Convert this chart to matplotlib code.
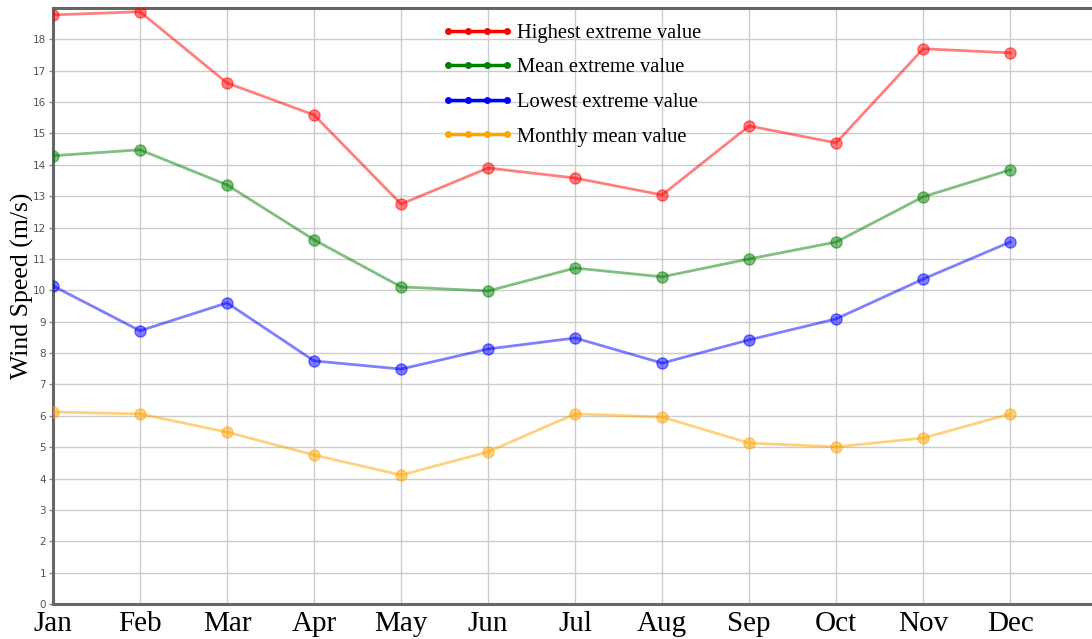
import matplotlib.pyplot as plt
from matplotlib.lines import Line2D

months = ['Jan', 'Feb', 'Mar', 'Apr', 'May', 'Jun', 'Jul', 'Aug', 'Sep', 'Oct', 'Nov', 'Dec']
highest = [18.78, 18.88, 16.61, 15.59, 12.75, 13.90, 13.58, 13.04, 15.24, 14.70, 17.70, 17.57]
mean_extreme = [14.29, 14.48, 13.36, 11.61, 10.11, 9.98, 10.71, 10.43, 11.00, 11.54, 12.98, 13.84]
lowest = [10.14, 8.71, 9.60, 7.75, 7.49, 8.13, 8.48, 7.68, 8.42, 9.09, 10.36, 11.54]
monthly_mean = [6.12, 6.06, 5.48, 4.75, 4.11, 4.85, 6.06, 5.96, 5.13, 5.01, 5.29, 6.06]

series = [
    ('Highest extreme value', highest, '#ff0000'),
    ('Mean extreme value', mean_extreme, '#008000'),
    ('Lowest extreme value', lowest, '#0000ff'),
    ('Monthly mean value', monthly_mean, '#ffa500'),
]

W, H = 1092, 639
fig = plt.figure(figsize=(W / 100, H / 100), dpi=100)
ax = fig.add_axes([53 / W, 35 / H, 1 - 53 / W, (604 - 8) / H])

x = list(range(len(months)))
for label, vals, col in series:
    ax.plot(x, vals, color=col, alpha=0.5, linewidth=2, marker='o', markersize=8, zorder=3)

ax.set_xlim(0, 11.94)
ax.set_ylim(0, 19)
ax.set_xticks(x)
ax.set_xticklabels(months, fontsize=21, fontfamily='Liberation Serif')
ax.set_yticks(range(0, 19))
ax.tick_params(axis='y', labelsize=7.5, labelcolor='#555555', color='#888888', length=3, width=1, pad=2)
ax.tick_params(axis='x', length=0, pad=5)

ax.grid(True, color='#cccccc', linewidth=1)
ax.set_axisbelow(True)

for side in ['left', 'bottom', 'top']:
    ax.spines[side].set_color('#666666')
    ax.spines[side].set_linewidth(2.2)
ax.spines['right'].set_visible(False)

ax.set_ylabel('Wind Speed (m/s)', fontsize=18.5, fontfamily='Liberation Serif')
ax.yaxis.set_label_coords(-0.0185, 0.534)

handles = [Line2D([0], [0], color=c, linewidth=2.5, marker='o', markersize=4) for _, _, c in series]
leg = ax.legend(handles, [s[0] for s in series], loc='upper left',
                bbox_to_anchor=(423 / W, 1 - 5 / H), bbox_transform=fig.transFigure,
                numpoints=4, frameon=False, handlelength=3.5, handletextpad=0.15,
                labelspacing=0.74, prop={'family': 'Liberation Serif', 'size': 14.8})

fig.savefig('out.png', dpi=100)
